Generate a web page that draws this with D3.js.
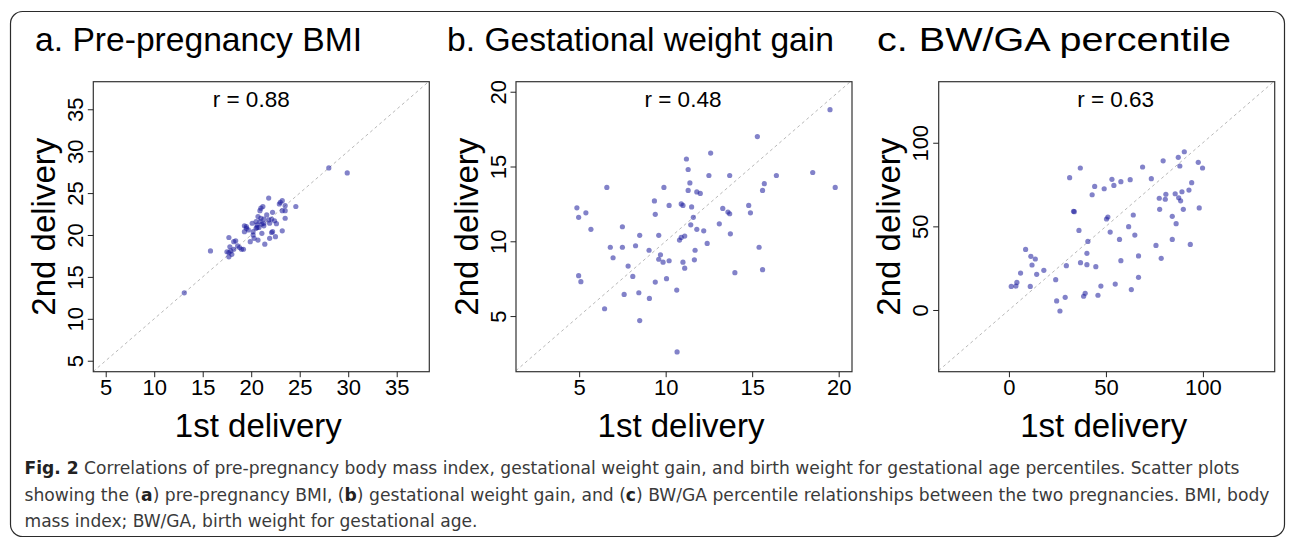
<!DOCTYPE html>
<html><head><meta charset="utf-8">
<script src="https://cdn.jsdelivr.net/npm/d3@7/dist/d3.min.js"></script>
<style>html,body{margin:0;padding:0;background:#fff}</style></head>
<body>
<svg id="chart" width="1295" height="544"></svg>
<script>
// ---------- data ----------
const panelTitles = ["a. Pre-pregnancy BMI", "b. Gestational weight gain", "c. BW/GA percentile"];
const rLabels = ["r = 0.88", "r = 0.48", "r = 0.63"];
const rLabelX = [20, 11, 55];
const xAxisTitle = "1st delivery";
const yAxisTitle = "2nd delivery";
const ticksA = [5, 10, 15, 20, 25, 30, 35];
const ticksB = [5, 10, 15, 20];
const ticksC = [0, 50, 100];

const bmiFirst  = [28.0,29.9,13.1,15.8,21.8,23.2,23.0,22.9,23.5,24.6,21.2,21.0,20.9,22.2,23.2,21.6,23.5,20.7,21.0,21.3,21.8,22.1,22.4,22.6,20.1,20.5,21.1,21.3,19.3,19.5,19.5,19.3,19.7,20.6,20.5,20.8,21.1,22.2,23.2,20.2,20.3,20.7,21.9,22.5,22.1,19.9,21.4,17.7,18.4,18.2,17.8,18.2,18.6,18.8,19.0,19.2,17.5,17.7,17.9,18.0,17.7,23.5,20.6,20.9,21.9,20.2,21.3];
const bmiSecond = [28.0,27.4,13.1,18.1,24.4,24.1,23.9,23.7,23.5,23.4,23.4,23.2,22.9,22.7,22.9,22.4,22.0,22.2,22.0,21.9,21.8,21.9,21.7,21.35,21.4,21.6,21.3,21.1,21.1,21.0,20.8,20.4,20.6,20.9,20.8,20.9,20.2,20.4,20.5,20.0,19.6,19.4,19.6,19.8,20.3,19.2,18.9,19.7,19.3,19.2,18.6,18.3,18.7,18.5,18.3,18.3,18.0,17.9,18.1,17.7,17.4,22.9,21.2,21.6,21.4,20.4,21.4];

const gwgFirst  = [19.5,15.3,12.6,11.2,11.3,12.5,13.7,16.4,18.5,19.8,15.7,15.6,6.6,9.9,11.4,11.3,11.8,12.0,9.35,10.2,10.9,11.0,11.5,14.8,14.9,13.3,13.6,13.7,9.4,4.87,4.97,5.39,11.6,11.45,11.8,12.2,13.1,13.74,5.68,7.5,8.5,9.6,10.8,10.9,11.1,12.4,15.4,6.8,7.5,8.26,9.04,11.7,6.96,9.7,9.6,9.85,10.2,11.0,11.1,11.66,7.83,14.0,15.6,4.97,5.1,8.1,9.4,10.05,10.64,7.6,8.45,9.06,6.47,8.5,10.66];
const gwgSecond = [18.8,17.0,15.9,15.5,14.8,14.4,14.4,14.4,14.6,13.6,13.85,13.4,13.6,13.6,13.9,13.4,13.3,13.2,12.7,12.4,12.5,12.4,12.3,12.4,11.9,12.2,11.95,11.84,11.8,12.24,11.6,11.9,11.6,11.1,10.8,10.7,11.17,10.5,10.8,10.97,10.4,10.4,10.08,10.26,10.35,9.86,9.6,9.6,9.6,9.7,9.4,9.4,8.9,9.1,8.8,8.6,8.7,8.6,8.2,8.76,8.34,7.9,8.1,7.7,7.3,7.65,7.27,7.5,6.74,6.45,6.56,6.18,5.49,4.7,2.6];

const bwgaFirst  = [90.4,87.3,79.5,97.6,99.8,88.1,68.9,36.8,31.3,53.1,57.7,62.5,73.4,94.2,44.2,54.1,49.1,42.9,92.8,89.2,85.7,80.9,77.5,80.6,87.5,88.5,77.7,89.9,98.1,33.3,33.7,50.3,51.0,64.1,84.2,86.2,61.7,36.1,52.2,64.9,57.0,40.7,84.2,75.8,93.5,8.6,11.3,13.6,40.2,66.8,78.5,57.7,36.9,40.2,44.8,11.9,29.6,18.0,14.3,6.0,24.1,66.8,4.1,3.6,1.2,11.0,47.4,54.8,63.1,39.3,38.5,45.9,29.0,24.6,26.3];
const bwgaSecond = [94.6,91.3,89.2,88.3,84.9,86.1,85.5,84.9,79.1,78.1,76.7,77.9,78.5,76.1,73.9,74.5,72.5,68.9,71.7,70.7,69.5,69.2,66.8,66.2,67.1,65.3,60.2,60.2,61.0,59.0,58.8,54.4,55.6,56.8,56.0,51.6,49.8,47.6,46.6,44.8,42.2,41.0,42.2,38.6,39.2,36.2,32.1,30.5,33.9,32.3,30.9,29.5,28.3,27.1,25.9,26.9,26.5,23.7,21.3,22.1,18.1,19.5,16.5,14.3,14.1,14.1,14.3,15.5,12.2,10.0,8.2,8.8,7.6,5.4,-0.6];

const captionLines = [
  [["Fig. 2", true], [" Correlations of pre-pregnancy body mass index, gestational weight gain, and birth weight for gestational age percentiles. Scatter plots", false]],
  [["showing the (", false], ["a", true], [") pre-pregnancy BMI, (", false], ["b", true], [") gestational weight gain, and (", false], ["c", true], [") BW/GA percentile relationships between the two pregnancies. BMI, body", false]],
  [["mass index; BW/GA, birth weight for gestational age.", false]]
];

// ---------- layout ----------
const svg = d3.select("#chart");
const FONT = "'Liberation Sans', Arial, Helvetica, sans-serif";
const boxW = 336, boxTop = 81.7, boxBottom = 371.7;

const panels = [
  {title: panelTitles[0], titleX: 35, titleW: 327, left: 93.3, xDom: [3.72, 38.36], yDom: [3.69, 38.29], ticks: ticksA, xs: bmiFirst, ys: bmiSecond},
  {title: panelTitles[1], titleX: 447, titleW: 387, left: 516, xDom: [1.35, 20.77], yDom: [1.28, 20.67], ticks: ticksB, xs: gwgFirst, ys: gwgSecond},
  {title: panelTitles[2], titleX: 877, titleW: 354, left: 938.7, xDom: [-36.2, 137.0], yDom: [-36.9, 136.5], ticks: ticksC, xs: bwgaFirst, ys: bwgaSecond}
];

// outer frame
svg.append("rect").attr("x", 10.5).attr("y", 11.5).attr("width", 1274).attr("height", 525)
  .attr("rx", 12).attr("fill", "none").attr("stroke", "#2b2b2b").attr("stroke-width", 1.2);

panels.forEach((p, i) => {
  const x = d3.scaleLinear().domain(p.xDom).range([p.left, p.left + boxW]);
  const y = d3.scaleLinear().domain(p.yDom).range([boxBottom, boxTop]);
  const g = svg.append("g");

  // title
  g.append("text").attr("x", p.titleX).attr("y", 50.5).attr("font-family", FONT)
    .attr("font-size", 33.5).attr("fill", "#000")
    .attr("textLength", p.titleW).attr("lengthAdjust", "spacingAndGlyphs").text(p.title);

  // diagonal y = x
  const lo = Math.max(p.xDom[0], p.yDom[0]), hi = Math.min(p.xDom[1], p.yDom[1]);
  g.append("line").attr("x1", x(lo)).attr("y1", y(lo)).attr("x2", x(hi)).attr("y2", y(hi))
    .attr("stroke", "#b8b8b8").attr("stroke-width", 1).attr("stroke-dasharray", "3,3");

  // points
  g.append("g").selectAll("circle").data(p.xs.map((v, k) => [v, p.ys[k]])).join("circle")
    .attr("cx", d => x(d[0])).attr("cy", d => y(d[1])).attr("r", 2.6)
    .attr("fill", "#1c1c9c").attr("fill-opacity", 0.55);

  // box
  g.append("rect").attr("x", p.left).attr("y", boxTop).attr("width", boxW).attr("height", boxBottom - boxTop)
    .attr("fill", "none").attr("stroke", "#333").attr("stroke-width", 1.2);

  // x axis
  const xa = g.append("g").attr("transform", `translate(0,${boxBottom})`)
    .call(d3.axisBottom(x).tickValues(p.ticks).tickSize(5.5).tickPadding(4).tickFormat(d3.format("d")));
  xa.select(".domain").remove();
  xa.selectAll("line").attr("stroke", "#222");
  xa.selectAll("text").attr("font-family", FONT).attr("font-size", 22).attr("fill", "#000")
    .attr("dy", null).attr("y", 23.3);

  // y axis
  const ya = g.append("g").attr("transform", `translate(${p.left},0)`)
    .call(d3.axisLeft(y).tickValues(p.ticks).tickSize(5.5).tickFormat(d3.format("d")));
  ya.select(".domain").remove();
  ya.selectAll("line").attr("stroke", "#222");
  ya.selectAll("text").attr("font-family", FONT).attr("font-size", 22).attr("fill", "#000")
    .attr("x", null).attr("dy", null).attr("text-anchor", "middle")
    .attr("transform", "translate(-10.5,0) rotate(-90)");

  // r label
  g.append("text").attr("x", x(rLabelX[i])).attr("y", 107).attr("text-anchor", "middle")
    .attr("font-family", FONT).attr("font-size", 22.5).attr("fill", "#000").text(rLabels[i]);

  // axis titles
  g.append("text").attr("x", p.left + boxW / 2 - 3).attr("y", 437).attr("text-anchor", "middle")
    .attr("font-family", FONT).attr("font-size", 33).attr("fill", "#000").text(xAxisTitle);
  g.append("text").attr("transform", `translate(${p.left - 38.5},${(boxTop + boxBottom) / 2}) rotate(-90)`)
    .attr("text-anchor", "middle").attr("font-family", FONT).attr("font-size", 33).attr("fill", "#000").text(yAxisTitle);
});

// caption
const capFont = "'Liberation Sans Narrow', 'DejaVu Sans Condensed', 'Arial Narrow', sans-serif";
const capTargets = [1215, 1245, 453];
const capY = [474, 500.5, 527];
captionLines.forEach((line, i) => {
  const t = svg.append("text").attr("x", 24.5).attr("y", capY[i])
    .attr("font-family", capFont).attr("font-size", 18.5).attr("fill", "#3a3a3a");
  line.forEach(([s, b]) => t.append("tspan").attr("font-weight", b ? "bold" : "normal").attr("fill", b ? "#222" : null).text(s));
  t.attr("textLength", capTargets[i]).attr("lengthAdjust", "spacingAndGlyphs");
});
</script>
</body></html>
